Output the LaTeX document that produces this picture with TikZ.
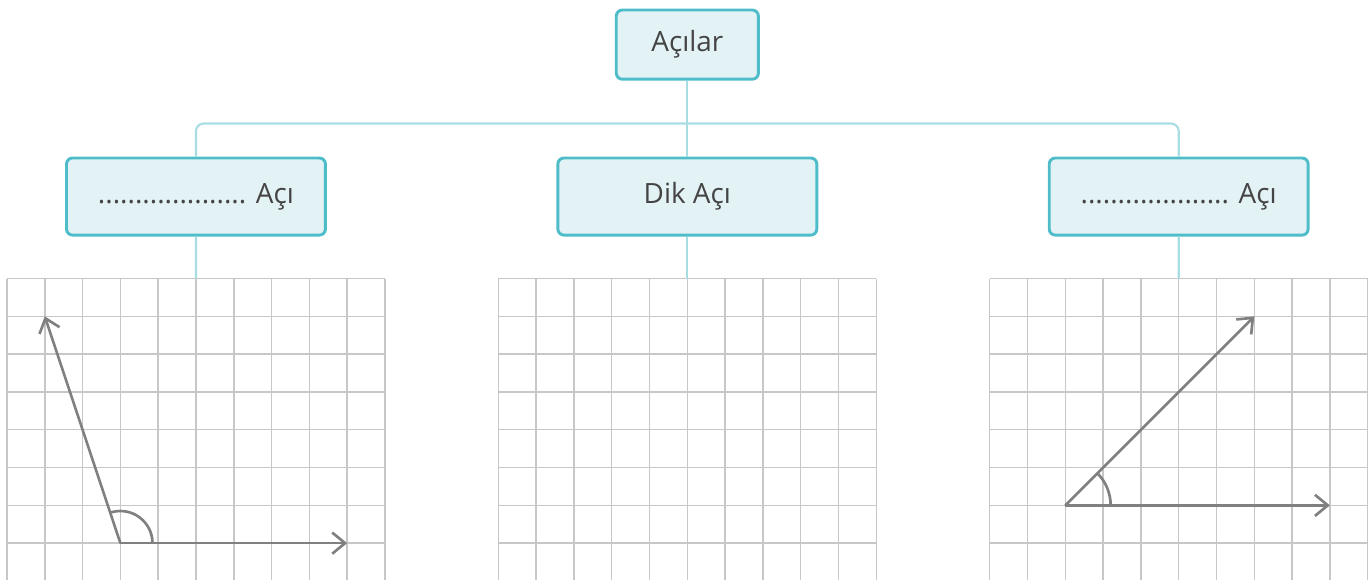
\documentclass[tikz,border=0pt]{standalone}
\usepackage{fontspec}
\setmainfont{Open Sans}
\usetikzlibrary{arrows.meta,positioning,calc}

\definecolor{boxfill}{RGB}{227,242,245}
\definecolor{boxline}{RGB}{78,189,201}
\definecolor{linkcol}{RGB}{168,221,227}
\definecolor{txtcol}{RGB}{68,68,68}
\definecolor{armcol}{RGB}{128,128,128}

\tikzset{
  box/.style={draw=boxline, fill=boxfill, line width=2.2pt, rounded corners=0.16cm,
    text=txtcol, font=\fontsize{21}{25}\selectfont,
    minimum width=6.85cm, minimum height=2.04cm},
  link/.style={draw=linkcol, line width=1.6pt},
  gridline/.style={draw=black!22, line width=1.1pt},
  arm/.style={draw=armcol, line width=2pt, -{Straight Barb[length=3.4mm,width=5.6mm]}},
  anglemark/.style={draw=armcol, line width=2pt}
}

\begin{document}
\begin{tikzpicture}
\useasboundingbox (0,0) rectangle (36.22,-15.32);

% kareli alanlar
\begin{scope}[shift={(0.185,-15.37)}]
\draw[gridline] (0,0) grid (10,8);
\coordinate (g1) at (5,8);
\coordinate (v1) at (3,1);
\coordinate (a1) at (9,1);
\coordinate (b1) at (1,7);
\end{scope}
\begin{scope}[shift={(13.185,-15.37)}]
\draw[gridline] (0,0) grid (10,8);
\coordinate (g2) at (5,8);
\end{scope}
\begin{scope}[shift={(26.185,-15.37)}]
\draw[gridline] (0,0) grid (10,8);
\coordinate (g3) at (5,8);
\coordinate (v3) at (2,2);
\coordinate (a3) at (9,2);
\coordinate (b3) at (7,7);
\end{scope}

% başlık
\node[box, minimum width=3.76cm, minimum height=1.83cm] (root) at (18.185,-1.18) {Açılar};

% açı türleri
\node[box, below of=root, yshift=-3.02cm] (mid) {Dik Açı};
\node[box, left of=mid, xshift=-12cm] (left) {.................... Açı};
\node[box, right of=mid, xshift=12cm] (right) {.................... Açı};

% bağlantılar
\coordinate (bus) at ($(root.south)!0.565!(mid.north)$);
\draw[link, rounded corners=0.2cm] (left.north) |- (bus) -| (right.north);
\draw[link] (root) -- (mid);
\draw[link] (left) -- (g1);
\draw[link] (mid) -- (g2);
\draw[link] (right) -- (g3);

% açılar
\draw[arm] (v1) -- (a1);
\draw[arm] (v1) -- (b1);
\draw[anglemark] ($(v1)+(0.85,0)$) arc[start angle=0, end angle=108.43, radius=0.85];
\draw[arm] (v3) -- (a3);
\draw[arm] (v3) -- (b3);
\draw[anglemark] ($(v3)+(1.2,0)$) arc[start angle=0, end angle=45, radius=1.2];
\end{tikzpicture}
\end{document}
